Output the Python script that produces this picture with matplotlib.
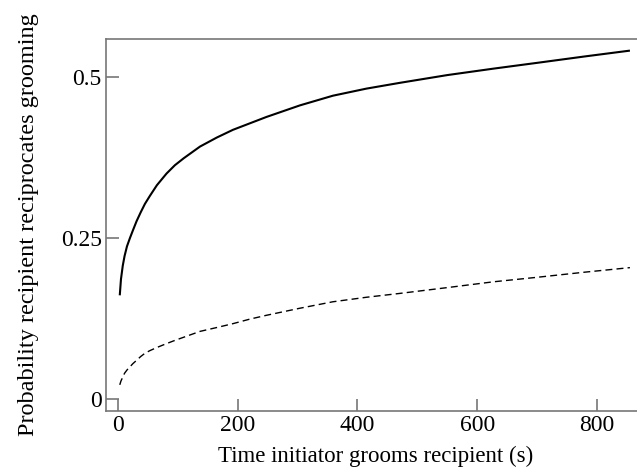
import matplotlib
matplotlib.use("Agg")
import matplotlib.pyplot as plt

# values
time_s = [3, 5, 8, 11, 15, 20, 25, 31, 38, 45, 53, 65, 81, 95, 110, 137, 165, 192, 220, 248, 304,
          359, 415, 471, 550, 627, 700, 780, 855]
prob_solid = [0.161, 0.186, 0.207, 0.222, 0.237, 0.250, 0.262, 0.276, 0.290, 0.303, 0.315, 0.332,
              0.350, 0.363, 0.374, 0.392, 0.406, 0.418, 0.428, 0.438, 0.456,
              0.471, 0.482, 0.491, 0.503, 0.513, 0.522, 0.532, 0.541]
prob_dashed = [0.022, 0.028, 0.034, 0.040, 0.045, 0.050, 0.055, 0.060, 0.066, 0.071, 0.075, 0.080,
               0.086, 0.091, 0.096, 0.105, 0.111, 0.117, 0.124, 0.130, 0.141,
               0.151, 0.158, 0.164, 0.173, 0.182, 0.189, 0.197, 0.204]

x_ticks = [0, 200, 400, 600, 800]
y_ticks = [0, 0.25, 0.5]
y_ticklabels = ["0", "0.25", "0.5"]

plt.rcParams['font.family'] = ['Liberation Serif', 'DejaVu Serif']

fig = plt.figure(figsize=(6.37, 4.69), dpi=100)
ax = fig.add_axes([0.1664, 0.1237, 0.846, 0.7931])

ax.plot(time_s, prob_solid, color='black', lw=1.5, solid_capstyle='butt')
ax.plot(time_s, prob_dashed, color='black', lw=1.0, dashes=(5, 3))

ax.set_xlim(-20, 880)
ax.set_ylim(-0.0186, 0.559)
ax.set_xticks(x_ticks)
ax.set_yticks(y_ticks)
ax.set_yticklabels(y_ticklabels)

for s in ax.spines.values():
    s.set_color('#777777')
    s.set_linewidth(1.2)
ax.tick_params(direction='in', length=9, width=1.2, color='#777777', labelsize=17, pad=3)

ax.set_xlabel("Time initiator grooms recipient (s)", fontsize=16.5, labelpad=7)
ax.set_ylabel("Probability recipient reciprocates grooming", fontsize=17.5, labelpad=16)

fig.savefig("out.png", dpi=100)
